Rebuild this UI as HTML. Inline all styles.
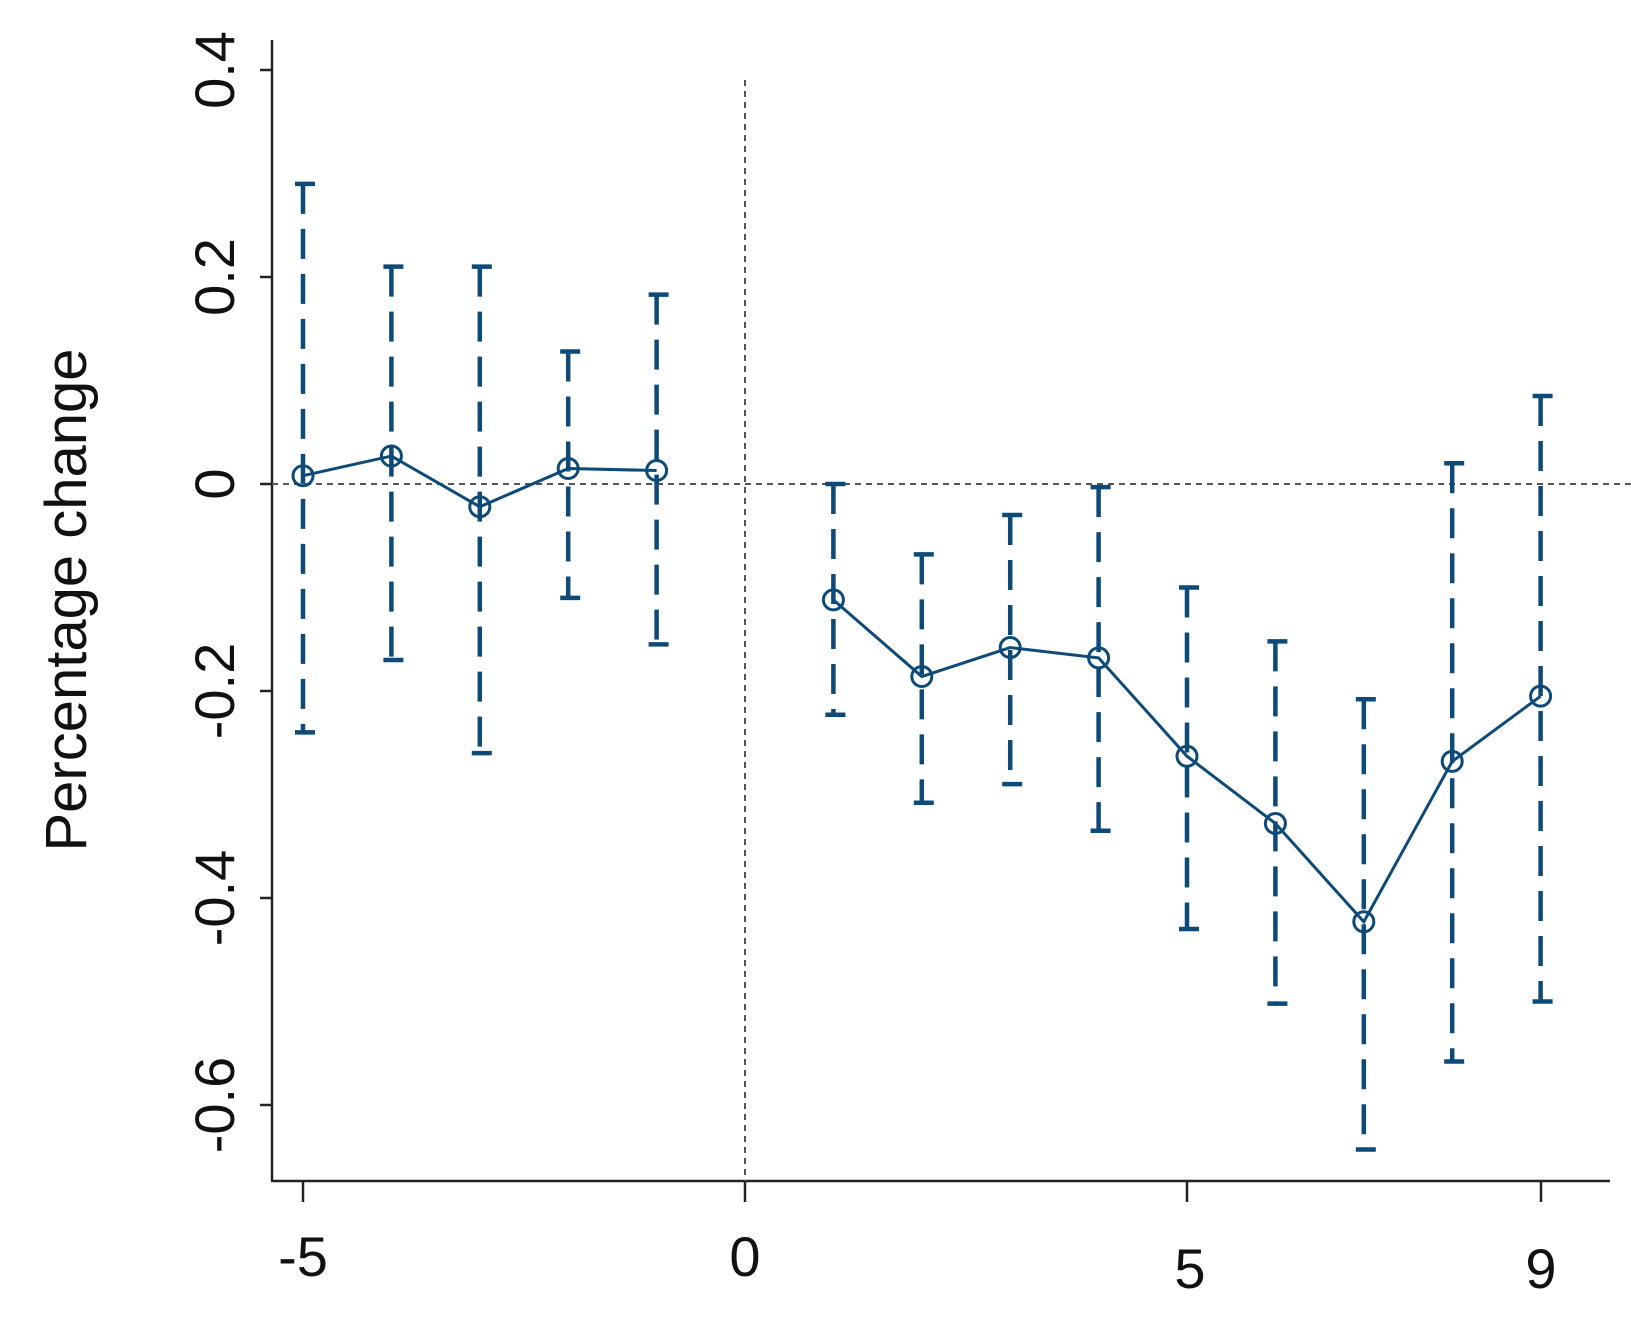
<!DOCTYPE html>
<html><head><meta charset="utf-8"><style>html,body{margin:0;padding:0;background:#fff}svg{display:block}</style></head>
<body>
<svg width="1631" height="1321" viewBox="0 0 1631 1321" xmlns="http://www.w3.org/2000/svg" font-family="Liberation Sans, sans-serif">
<g stroke="#222" stroke-width="2.5" fill="none">
<line x1="272" y1="40" x2="272" y2="1181"/>
<line x1="271" y1="1181" x2="1610" y2="1181"/>
<line x1="260" y1="70" x2="272" y2="70"/>
<line x1="260" y1="277" x2="272" y2="277"/>
<line x1="260" y1="484" x2="272" y2="484"/>
<line x1="260" y1="691" x2="272" y2="691"/>
<line x1="260" y1="898" x2="272" y2="898"/>
<line x1="260" y1="1105" x2="272" y2="1105"/>
<line x1="303" y1="1181" x2="303" y2="1202"/>
<line x1="745" y1="1181" x2="745" y2="1202"/>
<line x1="1187" y1="1181" x2="1187" y2="1202"/>
<line x1="1541" y1="1181" x2="1541" y2="1202"/>
</g>
<g stroke="#555" stroke-width="2" stroke-dasharray="6,5">
<line x1="745" y1="80" x2="745" y2="1181"/>
<line x1="272" y1="484" x2="1631" y2="484"/>
</g>
<g font-size="56" fill="#111" text-anchor="middle">
<text x="303" y="1276">-5</text>
<text x="745" y="1276">0</text>
<text x="1190" y="1288">5</text>
<text x="1541" y="1288">9</text>
<text transform="translate(234,70) rotate(-90)">0.4</text>
<text transform="translate(234,277) rotate(-90)">0.2</text>
<text transform="translate(234,484) rotate(-90)">0</text>
<text transform="translate(234,691) rotate(-90)">-0.2</text>
<text transform="translate(234,898) rotate(-90)">-0.4</text>
<text transform="translate(234,1105) rotate(-90)">-0.6</text>
<text transform="translate(86,600) rotate(-90)" font-size="58">Percentage change</text>
</g>
<g id="bars" stroke="#0d4a78" stroke-width="4.5" fill="none"></g>
<g id="line" stroke="#0d4a78" stroke-width="3" fill="none"></g>
<script>
var d=[[-5,0.008,-0.24,0.29],[-4,0.027,-0.17,0.21],[-3,-0.022,-0.26,0.21],[-2,0.015,-0.11,0.128],[-1,0.013,-0.155,0.183],
[1,-0.112,-0.223,0.0],[2,-0.186,-0.308,-0.068],[3,-0.158,-0.29,-0.03],[4,-0.168,-0.335,-0.003],[5,-0.263,-0.43,-0.1],
[6,-0.328,-0.502,-0.152],[7,-0.423,-0.643,-0.208],[8,-0.268,-0.558,0.02],[9,-0.205,-0.5,0.085]];
function X(v){return 745+88.4*v}function Y(v){return 484-1035*v}
var ns="http://www.w3.org/2000/svg",b=document.getElementById('bars'),l=document.getElementById('line');
function el(p,t,a){var e=document.createElementNS(ns,t);for(var k in a)e.setAttribute(k,a[k]);p.appendChild(e);return e}
d.forEach(function(r){var x=X(r[0]);
el(b,'line',{x1:x,y1:Y(r[3]),x2:x,y2:Y(r[2]),'stroke-dasharray':'30,15'});
el(b,'line',{x1:x-8,y1:Y(r[3]),x2:x+12,y2:Y(r[3])});
el(b,'line',{x1:x-8,y1:Y(r[2]),x2:x+12,y2:Y(r[2])});});
function seg(a){el(l,'polyline',{points:a.map(function(r){return X(r[0])+','+Y(r[1])}).join(' ')})}
seg(d.slice(0,5));seg(d.slice(5));
d.forEach(function(r){el(l,'circle',{cx:X(r[0]),cy:Y(r[1]),r:10,fill:'none'})});
</script>
</svg>
</body></html>
